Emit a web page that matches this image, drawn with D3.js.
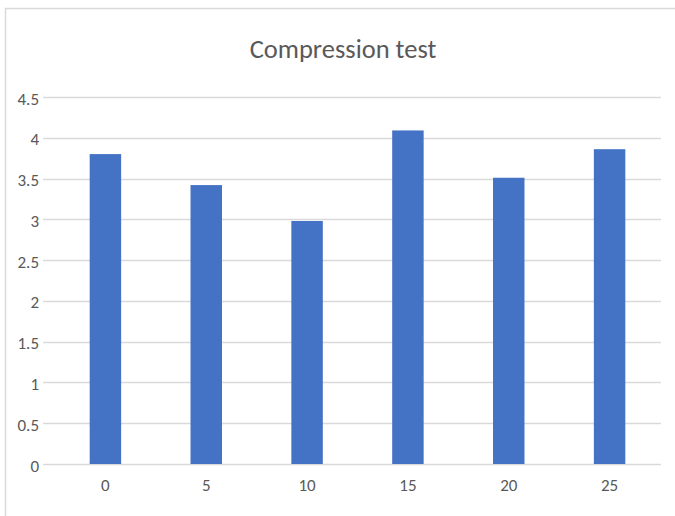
<!DOCTYPE html>
<html><head><meta charset="utf-8">
<script src="https://cdn.jsdelivr.net/npm/d3@7"></script>
<style>body{margin:0;background:#fff}svg{display:block}</style>
</head><body>
<script>
const categories = ["0","5","10","15","20","25"];
const values = [3.8, 3.42, 2.98, 4.09, 3.51, 3.86];
const yTicks = [0,0.5,1,1.5,2,2.5,3,3.5,4,4.5];
const title = "Compression test";

const W = 675, H = 516;
const font = "Carlito, Calibri, 'Liberation Sans Narrow', 'Liberation Sans', sans-serif";
const svg = d3.select("body").append("svg").attr("width", W).attr("height", H);
svg.append("rect").attr("width", W).attr("height", H).attr("fill", "#fff");
svg.append("rect").attr("x", 5.5).attr("y", 8.5).attr("width", 720).attr("height", 600)
  .attr("fill", "none").attr("stroke", "#d9d9d9").attr("stroke-width", 1.5);

const gridL = 43, gridR = 661;
const x = d3.scaleBand().domain(categories).range([55, 660]).paddingInner(0.688).paddingOuter(0.344);
const y = d3.scaleLinear().domain([0, 4.5]).range([464, 97]);

svg.append("g").selectAll("line").data(yTicks).join("line")
  .attr("x1", gridL).attr("x2", gridR)
  .attr("y1", d => Math.round(y(d)) + 0.5).attr("y2", d => Math.round(y(d)) + 0.5)
  .attr("stroke", "#d9d9d9").attr("stroke-width", 1.5);

svg.append("g").selectAll("text").data(yTicks).join("text")
  .attr("x", 39).attr("y", d => y(d) + 7.5)
  .attr("text-anchor", "end").attr("fill", "#595959")
  .attr("font-family", font).attr("font-size", 17).text(d => d);

svg.append("g").selectAll("rect").data(values).join("rect")
  .attr("x", (d, i) => x(categories[i])).attr("width", x.bandwidth())
  .attr("y", d => y(d)).attr("height", d => y(0) - y(d))
  .attr("fill", "#4472c4");

svg.append("g").selectAll("text").data(categories).join("text")
  .attr("x", d => x(d) + x.bandwidth() / 2).attr("y", 491)
  .attr("text-anchor", "middle").attr("fill", "#595959")
  .attr("font-family", font).attr("font-size", 17).text(d => d);

svg.append("text").attr("x", 343).attr("y", 58).attr("text-anchor", "middle")
  .attr("fill", "#595959").attr("font-family", font).attr("font-size", 26.5).text(title);
</script>
</body></html>
